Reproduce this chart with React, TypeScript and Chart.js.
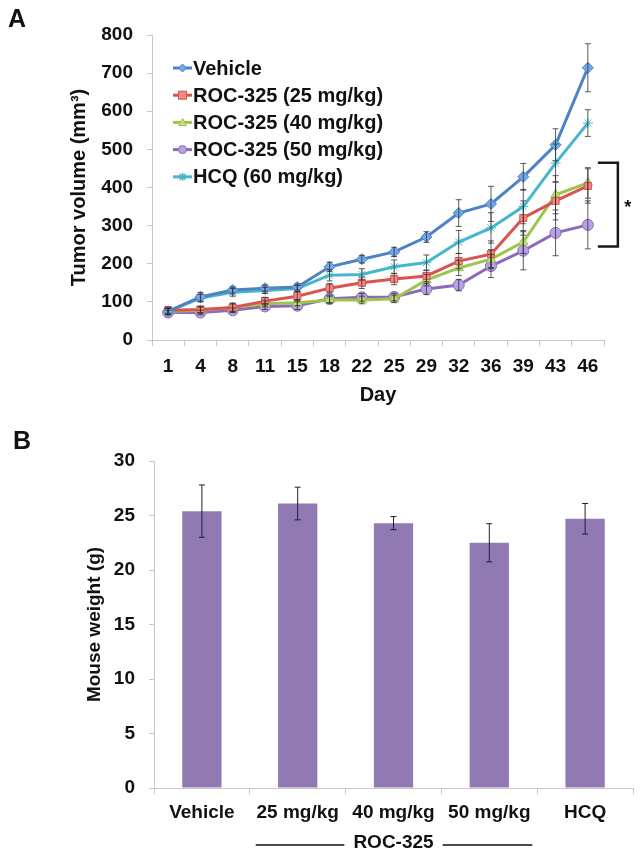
import React, { useEffect, useRef } from "react";
import { Chart, registerables } from "chart.js";

Chart.register(...registerables);

const FONT = "'Liberation Sans', Arial, Helvetica, sans-serif";

// ---- Panel A data ----
const days = ["1", "4", "8", "11", "15", "18", "22", "25", "29", "32", "36", "39", "43", "46"];
const vehicle = [75, 113, 131, 136, 139, 192, 212, 231, 270, 333, 357, 428, 512, 714];
const vehicleErr = [8, 12, 8, 8, 8, 12, 10, 12, 14, 35, 46, 35, 42, 63];
const roc25 = [78, 80, 85, 102, 115, 136, 150, 160, 168, 207, 225, 320, 365, 404];
const roc25Err = [8, 8, 10, 10, 12, 12, 15, 15, 15, 20, 35, 45, 50, 45];
const roc40 = [75, 78, 85, 95, 98, 105, 105, 108, 157, 189, 212, 257, 381, 412];
const roc40Err = [8, 8, 12, 8, 8, 10, 10, 10, 15, 20, 25, 30, 50, 40];
const roc50 = [72, 72, 78, 88, 90, 108, 112, 113, 134, 144, 194, 234, 281, 302];
const roc50Err = [6, 6, 6, 8, 10, 10, 10, 10, 15, 15, 30, 50, 60, 63];
const hcq = [75, 110, 125, 130, 135, 170, 172, 192, 203, 257, 294, 350, 464, 569];
const hcqErr = [8, 10, 10, 8, 8, 15, 15, 18, 20, 30, 40, 45, 50, 35];
const seriesNames = ["Vehicle", "ROC-325 (25 mg/kg)", "ROC-325 (40 mg/kg)", "ROC-325 (50 mg/kg)", "HCQ (60 mg/kg)"];
const volumeTicks = [0, 100, 200, 300, 400, 500, 600, 700, 800];
const bracketRange = [465, 245];

// ---- Panel B data ----
const groups = ["Vehicle", "25 mg/kg", "40 mg/kg", "50 mg/kg", "HCQ"];
const weights = [25.4, 26.1, 24.3, 22.5, 24.7];
const weightErr = [2.4, 1.5, 0.6, 1.75, 1.4];
const weightTicks = [0, 5, 10, 15, 20, 25, 30];
const groupLabel = "ROC-325";
const groupSpan = [1, 3];

const errorBarPlugin = {
  id: "errorBars",
  afterDatasetsDraw(chart: any) {
    const ctx = chart.ctx;
    const ys = chart.scales.y;
    chart.data.datasets.forEach((ds: any, i: number) => {
      const errs = ds.errors;
      if (!errs) return;
      const meta = chart.getDatasetMeta(i);
      meta.data.forEach((el: any, j: number) => {
        const v = ds.data[j];
        const e = errs[j];
        const x = el.x;
        const top = ys.getPixelForValue(v + e);
        const bot = ys.getPixelForValue(v - e);
        const cap = ds.errorCap || 3;
        ctx.save();
        ctx.strokeStyle = ds.errorColor || "rgba(50,50,50,0.8)";
        ctx.lineWidth = 1;
        ctx.beginPath();
        ctx.moveTo(x, top);
        ctx.lineTo(x, bot);
        ctx.moveTo(x - cap, top);
        ctx.lineTo(x + cap, top);
        ctx.moveTo(x - cap, bot);
        ctx.lineTo(x + cap, bot);
        ctx.stroke();
        ctx.restore();
      });
    });
  },
};

function drawMarker(ctx: any, style: string, x: number, y: number, r: number, fill: string, stroke: string) {
  ctx.save();
  ctx.fillStyle = fill;
  ctx.strokeStyle = stroke;
  ctx.lineWidth = 1;
  ctx.beginPath();
  if (style === "rectRot") {
    ctx.moveTo(x, y - r);
    ctx.lineTo(x + r, y);
    ctx.lineTo(x, y + r);
    ctx.lineTo(x - r, y);
    ctx.closePath();
    ctx.fill();
    ctx.stroke();
  } else if (style === "rect") {
    ctx.rect(x - r, y - r, 2 * r, 2 * r);
    ctx.fill();
    ctx.stroke();
  } else if (style === "triangle") {
    ctx.moveTo(x, y - r);
    ctx.lineTo(x + r, y + r * 0.8);
    ctx.lineTo(x - r, y + r * 0.8);
    ctx.closePath();
    ctx.fill();
    ctx.stroke();
  } else if (style === "circle") {
    ctx.arc(x, y, r, 0, Math.PI * 2);
    ctx.fill();
    ctx.stroke();
  } else {
    ctx.lineWidth = 1.5;
    for (let k = 0; k < 4; k++) {
      const a = (k * Math.PI) / 4;
      ctx.moveTo(x - Math.cos(a) * r, y - Math.sin(a) * r);
      ctx.lineTo(x + Math.cos(a) * r, y + Math.sin(a) * r);
    }
    ctx.stroke();
  }
  ctx.restore();
}

const legendAPlugin = {
  id: "legendA",
  afterDraw(chart: any) {
    const ctx = chart.ctx;
    const area = chart.chartArea;
    const x0 = area.left + 21;
    const y0 = area.top + 33;
    const step = 27.2;
    chart.data.datasets.forEach((ds: any, i: number) => {
      const y = y0 + i * step;
      ctx.save();
      ctx.strokeStyle = ds.borderColor;
      ctx.lineWidth = 3;
      ctx.beginPath();
      ctx.moveTo(x0, y);
      ctx.lineTo(x0 + 19, y);
      ctx.stroke();
      drawMarker(ctx, ds.pointStyle, x0 + 9.5, y, 4, ds.pointBackgroundColor, ds.borderColor);
      ctx.fillStyle = "#111";
      ctx.font = `bold 20px ${FONT}`;
      ctx.textBaseline = "middle";
      ctx.textAlign = "left";
      ctx.fillText(ds.label, x0 + 20, y + 1);
      ctx.restore();
    });
  },
};

const bracketPlugin = {
  id: "bracket",
  afterDraw(chart: any) {
    const ctx = chart.ctx;
    const ys = chart.scales.y;
    const xs = chart.scales.x;
    const lastX = xs.getPixelForValue(days.length - 1);
    const xr = lastX + 30;
    const xl = lastX + 10;
    const yt = ys.getPixelForValue(bracketRange[0]);
    const yb = ys.getPixelForValue(bracketRange[1]);
    ctx.save();
    ctx.strokeStyle = "#1a1a1a";
    ctx.lineWidth = 2.5;
    ctx.beginPath();
    ctx.moveTo(xl, yt);
    ctx.lineTo(xr, yt);
    ctx.lineTo(xr, yb);
    ctx.lineTo(xl, yb);
    ctx.stroke();
    ctx.fillStyle = "#111";
    ctx.font = `bold 18px ${FONT}`;
    ctx.textAlign = "center";
    ctx.textBaseline = "middle";
    ctx.fillText("*", xr + 10, (yt + yb) / 2 + 3);
    ctx.restore();
  },
};

const groupLabelPlugin = {
  id: "groupLabel",
  afterDraw(chart: any) {
    const ctx = chart.ctx;
    const xs = chart.scales.x;
    const a = xs.getPixelForValue(groupSpan[0]);
    const b = xs.getPixelForValue(groupSpan[1]);
    const mid = (a + b) / 2;
    const y = xs.bottom - 17;
    ctx.save();
    ctx.font = `bold 19px ${FONT}`;
    ctx.fillStyle = "#111";
    ctx.textAlign = "center";
    ctx.textBaseline = "middle";
    ctx.fillText(groupLabel, mid, y);
    const w = ctx.measureText(groupLabel).width;
    ctx.strokeStyle = "#111";
    ctx.lineWidth = 1.5;
    ctx.beginPath();
    ctx.moveTo(a - 42, y + 2);
    ctx.lineTo(mid - w / 2 - 9, y + 2);
    ctx.moveTo(mid + w / 2 + 9, y + 2);
    ctx.lineTo(b + 43, y + 2);
    ctx.stroke();
    ctx.restore();
  },
};

function ChartA() {
  const ref = useRef<HTMLCanvasElement | null>(null);
  useEffect(() => {
    const mk = (label: string, data: number[], errs: number[], color: string, fill: string, style: string, r: number) => ({
      label,
      data,
      errors: errs,
      borderColor: color,
      backgroundColor: color,
      pointBackgroundColor: fill,
      pointBorderColor: color,
      pointBorderWidth: 1,
      pointStyle: style,
      pointRadius: r,
      borderWidth: 3,
      tension: 0,
      fill: false,
    });
    const chart = new Chart(ref.current as HTMLCanvasElement, {
      type: "line",
      data: {
        labels: days,
        datasets: [
          mk(seriesNames[0], vehicle, vehicleErr, "#4d82c4", "#72a6e6", "rectRot", 5.5),
          mk(seriesNames[1], roc25, roc25Err, "#d9534f", "#f28a84", "rect", 5),
          mk(seriesNames[2], roc40, roc40Err, "#9ec44e", "#bfe07a", "triangle", 5.5),
          mk(seriesNames[3], roc50, roc50Err, "#8a6bbb", "#b9a1e3", "circle", 5.5),
          mk(seriesNames[4], hcq, hcqErr, "#45b6cc", "#8adbe9", "star", 5),
        ] as any,
      },
      options: {
        responsive: false,
        animation: false,
        layout: { padding: { top: 35, right: 40, left: 0, bottom: 0 } },
        plugins: { legend: { display: false }, tooltip: { enabled: false } },
        scales: {
          x: {
            type: "category",
            offset: true,
            grid: { offset: true, drawOnChartArea: false, drawTicks: true, tickLength: 6, color: "#c8c8c8" },
            border: { color: "#c8c8c8" },
            ticks: { autoSkip: false, maxRotation: 0, padding: 9, color: "#111", font: { family: FONT, size: 19, weight: "bold" } },
            title: { display: true, text: "Day", color: "#111", font: { family: FONT, size: 20, weight: "bold" }, padding: { top: 0, bottom: 3 } },
            afterFit: (s: any) => { s.height = 70; },
          },
          y: {
            min: 0,
            max: 800,
            afterBuildTicks: (s: any) => { s.ticks = volumeTicks.map((v) => ({ value: v })); },
            grid: { drawOnChartArea: false, drawTicks: true, tickLength: 5, color: "#c8c8c8" },
            border: { color: "#c8c8c8" },
            ticks: { padding: 14, color: "#111", font: { family: FONT, size: 19, weight: "bold" } },
            title: { display: true, text: "Tumor volume (mm³)", color: "#111", font: { family: FONT, size: 20, weight: "bold" }, padding: { top: 67, bottom: 0 } },
            afterFit: (s: any) => { s.width = 152; },
          },
        },
      } as any,
      plugins: [errorBarPlugin, legendAPlugin, bracketPlugin],
    });
    return () => chart.destroy();
  }, []);
  return <canvas ref={ref} width={644} height={410} style={{ position: "absolute", left: 0, top: 0, width: 644, height: 410 }} />;
}

function ChartB() {
  const ref = useRef<HTMLCanvasElement | null>(null);
  useEffect(() => {
    const chart = new Chart(ref.current as HTMLCanvasElement, {
      type: "bar",
      data: {
        labels: groups,
        datasets: [
          {
            label: "Mouse weight",
            data: weights,
            errors: weightErr,
            errorColor: "#2a1a3a",
            errorCap: 3,
            backgroundColor: "#917ab2",
            borderWidth: 0,
            barPercentage: 0.41,
            categoryPercentage: 1,
          } as any,
        ],
      },
      options: {
        responsive: false,
        animation: false,
        layout: { padding: { top: 41, right: 11, left: 0, bottom: 0 } },
        plugins: { legend: { display: false }, tooltip: { enabled: false } },
        scales: {
          x: {
            grid: { offset: true, drawOnChartArea: false, drawTicks: true, tickLength: 6, color: "#c8c8c8" },
            border: { color: "#c8c8c8" },
            ticks: { autoSkip: false, maxRotation: 0, padding: 7, color: "#111", font: { family: FONT, size: 19, weight: "bold" } },
            afterFit: (s: any) => { s.height = 72; },
          },
          y: {
            min: 0,
            max: 30,
            afterBuildTicks: (s: any) => { s.ticks = weightTicks.map((v) => ({ value: v })); },
            grid: { drawOnChartArea: false, drawTicks: true, tickLength: 5, color: "#c8c8c8" },
            border: { color: "#c8c8c8" },
            ticks: { padding: 14, color: "#111", font: { family: FONT, size: 19, weight: "bold" } },
            title: { display: true, text: "Mouse weight (g)", color: "#111", font: { family: FONT, size: 19, weight: "bold" }, padding: { top: 83, bottom: 0 } },
            afterFit: (s: any) => { s.width = 154; },
          },
        },
      } as any,
      plugins: [errorBarPlugin, groupLabelPlugin],
    });
    return () => chart.destroy();
  }, []);
  return <canvas ref={ref} width={644} height={440} style={{ position: "absolute", left: 0, top: 420, width: 644, height: 440 }} />;
}

export default function App() {
  const letter: React.CSSProperties = {
    position: "absolute",
    fontFamily: FONT,
    fontWeight: "bold",
    fontSize: 25,
    lineHeight: "25px",
    color: "#111",
    margin: 0,
  };
  return (
    <div style={{ position: "absolute", left: 0, top: 0, width: 644, height: 860, background: "#fff", overflow: "hidden" }}>
      <ChartA />
      <ChartB />
      <div style={{ ...letter, left: 8, top: 6 }}>A</div>
      <div style={{ ...letter, left: 13, top: 428 }}>B</div>
    </div>
  );
}
